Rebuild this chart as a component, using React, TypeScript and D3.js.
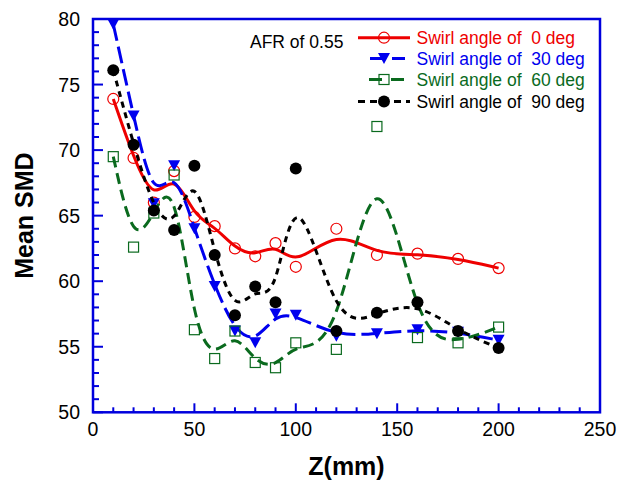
import React from "react";
import * as d3 from "d3";

const zValues = [10, 20, 30, 40, 50, 60, 70, 80, 90, 100, 120, 140, 160, 180, 200];
const smd0 = [73.9, 69.4, 66.0, 68.4, 64.9, 64.2, 62.5, 61.9, 62.9, 61.1, 64.0, 62.0, 62.1, 61.7, 61.0];
const smd30 = [79.6, 72.6, 65.9, 68.8, 64.0, 59.6, 56.2, 55.3, 57.5, 57.4, 55.8, 56.0, 56.3, 56.1, 55.5];
const smd60 = [69.5, 62.6, 65.2, 68.1, 56.3, 54.1, 56.2, 53.8, 53.4, 55.3, 54.8, 71.8, 55.7, 55.3, 56.5];
const smd90 = [76.1, 70.4, 65.4, 63.9, 68.8, 62.0, 57.4, 59.6, 58.4, 68.6, 56.2, 57.6, 58.4, 56.2, 54.9];

const xTicks = [0, 50, 100, 150, 200, 250];
const yTicks = [50, 55, 60, 65, 70, 75, 80];
const legendLabels = ["Swirl angle of  0 deg", "Swirl angle of  30 deg", "Swirl angle of  60 deg", "Swirl angle of  90 deg"];
const annotation = "AFR of 0.55";

const RED = "#ee0000";
const BLUE = "#0000ee";
const GREEN = "#0a6a1e";
const BLACK = "#000000";
const AXIS = "#0000dd";
const FONT = "'Liberation Sans', Arial, Helvetica, sans-serif";

type Series = { xs: number[]; ys: number[]; color: string; dash: string | null; marker: string };

const series: Series[] = [
  { xs: zValues, ys: smd0, color: RED, dash: null, marker: "openCircle" },
  { xs: zValues, ys: smd30, color: BLUE, dash: "17,6", marker: "triangle" },
  { xs: zValues, ys: smd60, color: GREEN, dash: "11,6", marker: "square" },
  { xs: zValues, ys: smd90, color: BLACK, dash: "6,5", marker: "dot" },
];

function Marker({ type, x, y, color }: { type: string; x: number; y: number; color: string }) {
  if (type === "openCircle") return <circle cx={x} cy={y} r={5.5} fill="none" stroke={color} strokeWidth={1.2} />;
  if (type === "triangle")
    return <path d={`M${x - 6},${y - 5.5}L${x + 6},${y - 5.5}L${x},${y + 5.5}Z`} fill={color} />;
  if (type === "square")
    return <rect x={x - 5} y={y - 5} width={10} height={10} fill="none" stroke={color} strokeWidth={1.2} />;
  return <circle cx={x} cy={y} r={6} fill={color} />;
}

export default function App() {
  const W = 618, H = 483;
  const left = 93, right = 600, top = 19, bottom = 412.3;
  const x = d3.scaleLinear().domain([0, 250]).range([left, right]);
  const y = d3.scaleLinear().domain([50, 80]).range([bottom, top]);
  const line = d3.line<[number, number]>().x(d => x(d[0])).y(d => y(d[1])).curve(d3.curveBasis);

  const xMinor = d3.range(0, 251, 10);
  const yMinor = d3.range(50, 81, 1);

  const legendRows = [37.7, 58.5, 79.5, 101.5];
  const legendStart = [358, 370, 369, 358];

  return (
    <div style={{ position: "absolute", left: 0, top: 0 }}>
      <svg width={W} height={H} style={{ display: "block", background: "#fff" }}>
        {series.map((s, i) => (
          <g key={i}>
            <path
              d={line(s.xs.map((v, j) => [v, s.ys[j]] as [number, number])) || ""}
              fill="none"
              stroke={s.color}
              strokeWidth={3}
              strokeDasharray={s.dash || undefined}
            />
            {s.xs.map((v, j) => (
              <Marker key={j} type={s.marker} x={x(v)} y={y(s.ys[j])} color={s.color} />
            ))}
          </g>
        ))}

        <rect x={left} y={top} width={right - left} height={bottom - top} fill="none" stroke={AXIS} strokeWidth={2.5} />
        {xMinor.map(v => (
          <line key={"xm" + v} x1={x(v)} x2={x(v)} y1={bottom} y2={bottom - (v % 50 === 0 ? 9 : 5)} stroke={AXIS} strokeWidth={2} />
        ))}
        {yMinor.map(v => (
          <line key={"ym" + v} x1={left} x2={left + (v % 5 === 0 ? 10 : 6)} y1={y(v)} y2={y(v)} stroke={AXIS} strokeWidth={2} />
        ))}

        {xTicks.map(v => (
          <text key={"xl" + v} x={x(v)} y={436} textAnchor="middle" fontFamily={FONT} fontSize={19.5} fill="#000">
            {v}
          </text>
        ))}
        {yTicks.map(v => (
          <text key={"yl" + v} x={80} y={y(v) + 7} textAnchor="end" fontFamily={FONT} fontSize={19.5} fill="#000">
            {v}
          </text>
        ))}

        <text x={(left + right) / 2} y={475} textAnchor="middle" fontFamily={FONT} fontSize={25} fontWeight="bold" fill="#000">
          Z(mm)
        </text>
        <text
          transform={`translate(33, ${(top + bottom) / 2}) rotate(-90)`}
          textAnchor="middle"
          fontFamily={FONT}
          fontSize={25}
          fontWeight="bold"
          fill="#000"
        >
          Mean SMD
        </text>

        <text x={250} y={47.5} fontFamily={FONT} fontSize={17.5} fill="#000">
          {annotation}
        </text>
        {series.map((s, i) => (
          <g key={"lg" + i}>
            <line
              x1={legendStart[i]}
              x2={410}
              y1={legendRows[i]}
              y2={legendRows[i]}
              stroke={s.color}
              strokeWidth={3}
              strokeDasharray={s.dash ? (i === 3 ? "7,5" : "13,9") : undefined}
            />
            <Marker type={s.marker} x={384} y={legendRows[i]} color={s.color} />
            <text
              x={416.5}
              y={legendRows[i] + 6.3}
              fontFamily={FONT}
              fontSize={17.5}
              fill={s.color}
              style={{ whiteSpace: "pre" }}
            >
              {legendLabels[i]}
            </text>
          </g>
        ))}
      </svg>
    </div>
  );
}
